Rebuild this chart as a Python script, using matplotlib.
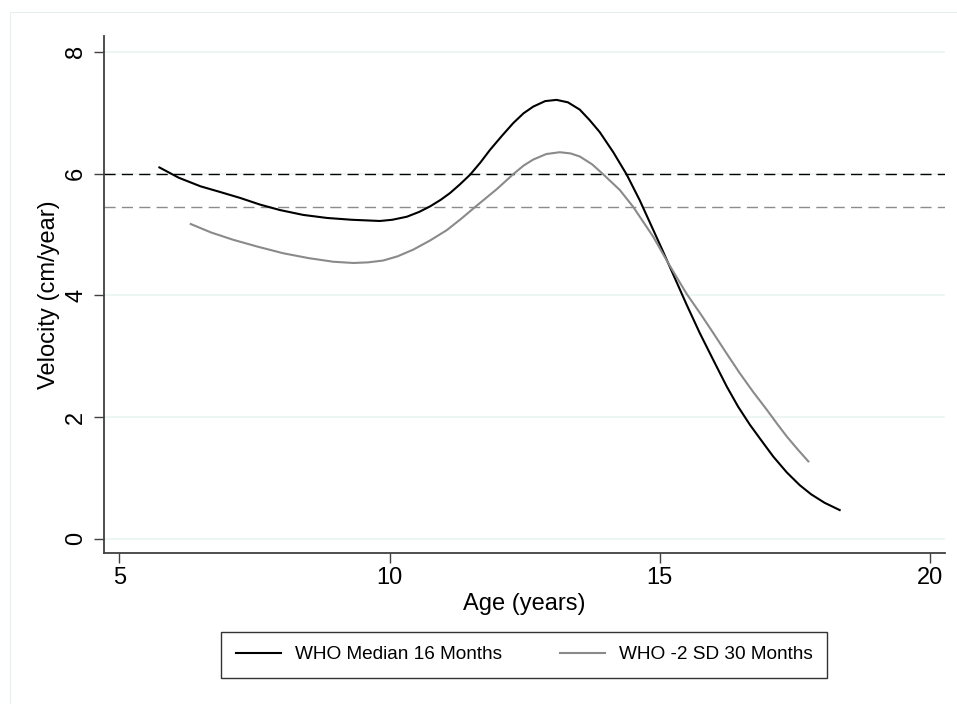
import numpy as np
import matplotlib
matplotlib.use('Agg')
import matplotlib.pyplot as plt
from matplotlib.patches import Rectangle

plt.rcParams['font.family'] = ['Liberation Sans', 'DejaVu Sans']

# WHO Median 16 Months (age in years, velocity cm/year)
median_age = [5.74, 6.10, 6.50, 6.85, 7.23, 7.60, 7.97, 8.40, 8.84, 9.30, 9.82, 10.05,
              10.32, 10.55, 10.75, 10.95, 11.12, 11.30, 11.49, 11.68, 11.86, 12.08, 12.29,
              12.48, 12.66, 12.88, 13.09, 13.30, 13.52, 13.70, 13.89, 14.14, 14.39, 14.63,
              14.82, 15.05, 15.25, 15.50, 15.74, 16.00, 16.24, 16.45, 16.67, 16.90, 17.10,
              17.35, 17.59, 17.80, 18.05, 18.33]
median_vel = [6.10, 5.93, 5.79, 5.70, 5.60, 5.49, 5.40, 5.32, 5.27, 5.24, 5.22, 5.24,
              5.29, 5.37, 5.46, 5.57, 5.68, 5.82, 5.98, 6.18, 6.39, 6.62, 6.83,
              6.99, 7.10, 7.19, 7.21, 7.17, 7.05, 6.88, 6.68, 6.35, 5.98, 5.56,
              5.19, 4.74, 4.34, 3.84, 3.38, 2.92, 2.50, 2.17, 1.87, 1.59, 1.35,
              1.09, 0.88, 0.73, 0.59, 0.47]

# WHO -2 SD 30 Months
sd_age = [6.32, 6.70, 7.11, 7.55, 8.03, 8.50, 8.96, 9.33, 9.60, 9.88, 10.15, 10.44,
          10.75, 11.06, 11.33, 11.61, 11.98, 12.29, 12.48, 12.66, 12.90, 13.15, 13.35,
          13.52, 13.75, 13.95, 14.26, 14.51, 14.88, 15.13, 15.31, 15.50, 15.75, 15.99,
          16.24, 16.48, 16.73, 16.98, 17.17, 17.35, 17.55, 17.75]
sd_vel = [5.17, 5.03, 4.91, 4.80, 4.69, 4.61, 4.55, 4.53, 4.54, 4.57, 4.64, 4.75,
          4.90, 5.07, 5.26, 5.47, 5.74, 5.99, 6.13, 6.23, 6.32, 6.35, 6.33,
          6.28, 6.15, 5.99, 5.73, 5.45, 4.96, 4.57, 4.30, 4.02, 3.70, 3.38,
          3.04, 2.72, 2.41, 2.12, 1.89, 1.68, 1.47, 1.27]

ref_median = 5.99
ref_sd = 5.45

x_ticks = [5, 10, 15, 20]
y_ticks = [0, 2, 4, 6, 8]

fig = plt.figure(figsize=(9.57, 7.04), dpi=100)
ax = fig.add_axes([0.1084, 0.2141, 0.8791, 0.7348])

# faint outer frame of the graph region
fig.patches.append(Rectangle((10 / 957, -0.1), 1.2, 1 - 12 / 704 + 0.1,
                             transform=fig.transFigure, fill=False,
                             edgecolor='#e8eef0', linewidth=0.8))

for y in y_ticks:
    ax.axhline(y, color='#eaf2f3', linewidth=1.1, zorder=0)

ax.axhline(ref_median, color='black', linewidth=1.0, dashes=(8, 4.5), zorder=2)
ax.axhline(ref_sd, color='#8c8c8c', linewidth=1.0, dashes=(8, 4.5), zorder=2)

ax.plot(median_age, median_vel, color='black', linewidth=1.5,
        label='WHO Median 16 Months', zorder=3)
ax.plot(sd_age, sd_vel, color='#8a8a8a', linewidth=1.5,
        label='WHO -2 SD 30 Months', zorder=3)

ax.set_xlim(4.71, 20.28)
ax.set_ylim(-0.24, 8.26)
ax.set_xticks(x_ticks)
ax.set_yticks(y_ticks)
ax.set_yticklabels([str(v) for v in y_ticks], rotation=90, va='center')
ax.tick_params(axis='both', labelsize=17, length=7, width=1.0, color='#404040')
ax.tick_params(axis='y', pad=5)
ax.tick_params(axis='x', pad=3)

for side in ['top', 'right']:
    ax.spines[side].set_visible(False)
for side in ['left', 'bottom']:
    ax.spines[side].set_color('#404040')
    ax.spines[side].set_linewidth(1.3)

ax.set_xlabel('Age (years)', fontsize=17, labelpad=3)
ax.set_ylabel('Velocity (cm/year)', fontsize=17, labelpad=4)

leg = ax.legend(loc='upper center', bbox_to_anchor=(0.5, -0.152), ncol=2,
                frameon=True, fancybox=False, fontsize=13.7, handlelength=2.37,
                columnspacing=3.0, borderpad=0.75, handletextpad=0.77,
                borderaxespad=0)
leg.get_frame().set_edgecolor('black')
leg.get_frame().set_linewidth(1.0)

fig.savefig('out.png', dpi=100)
